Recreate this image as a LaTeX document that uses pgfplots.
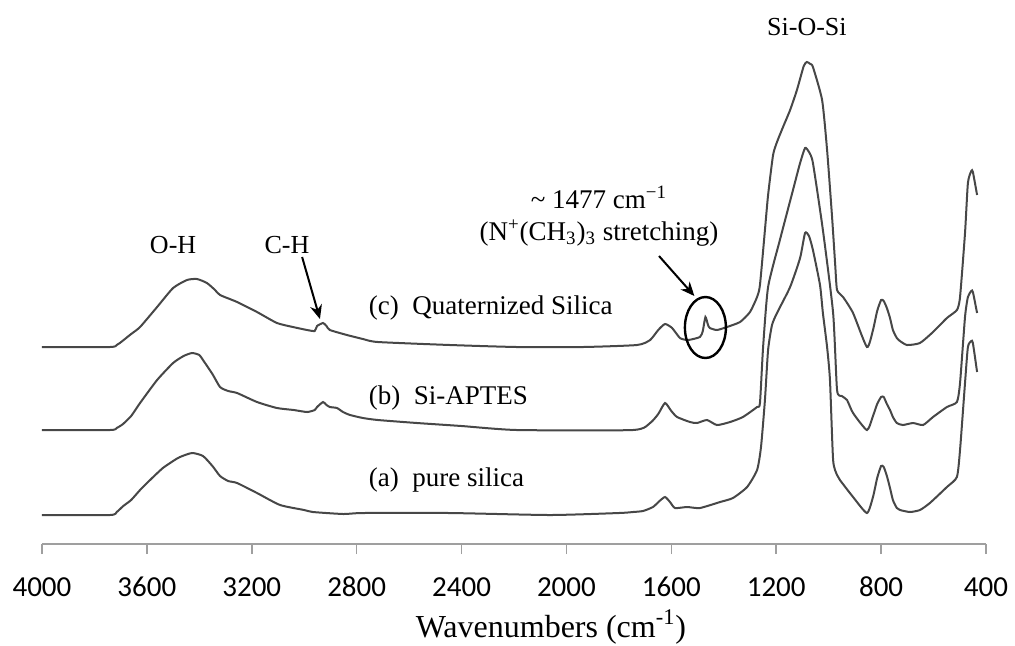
\documentclass[border=0pt]{standalone}
\usepackage{fontspec}
\setmainfont{Liberation Serif}
\newfontfamily\calibri{Carlito}
\usepackage{pgfplots}
\pgfplotsset{compat=1.18}
\usepackage{pgfplotstable}
\usetikzlibrary{arrows.meta}

\pgfplotstableread{
w h
4000 29
3741 29
3715 32
3690 38
3660 44
3626 54
3580 66
3539 76
3500 83
3474 87
3428 91
3386 88
3350 78
3321 68
3290 63
3256 61
3180 51
3092 39
3000 34
2967 32
2850 30
2776 31
2444 31
2063 29
1800 31
1746 32
1708 33
1670 37
1645 43
1624 47
1605 42
1586 36
1540 37
1491 36
1414 42
1365 46
1311 57
1273 74
1258 97
1243 144
1231 194
1216 219
1197 231
1147 257
1109 286
1090 311
1075 308
1060 294
1033 259
1022 231
1006 197
995 164
983 84
968 69
957 64
907 47
854 31
831 47
815 66
800 78
790 77
778 68
766 56
755 44
740 36
728 34
690 32
652 34
614 41
549 57
511 67
499 94
480 161
469 197
456 203
450 201
434 172
}\silica

\pgfplotstableread{
w h
4000 114
3741 114
3715 116
3691 120
3660 128
3626 141
3561 164
3500 181
3460 188
3428 191
3400 189
3386 184
3350 170
3321 157
3290 153
3256 151
3180 142
3104 136
3040 134
2989 132
2960 134
2951 137
2928 142
2915 139
2902 137
2875 136
2852 132
2825 129
2776 126
2719 124
2570 121
2400 118
2189 114
1746 114
1681 121
1650 130
1624 141
1600 133
1578 127
1529 122
1502 121
1464 124
1426 119
1376 122
1327 127
1273 137
1262 141
1250 197
1231 257
1186 304
1136 354
1110 380
1090 396
1075 392
1060 381
1022 314
983 231
968 154
950 148
930 144
907 131
854 114
831 128
815 140
800 147
790 147
778 140
766 134
755 127
740 121
717 119
678 121
640 119
602 127
549 137
511 142
499 161
480 227
469 247
456 253
450 252
434 231
}\aptes

\pgfplotstableread{
w h
4000 197
3741 197
3715 199
3703 201
3660 210
3626 217
3561 237
3500 256
3447 264
3409 265
3371 261
3340 254
3321 249
3256 242
3180 232
3104 221
3043 217
2989 214
2960 213
2951 218
2928 221
2915 218
2902 214
2837 209
2776 205
2719 202
2444 199
2189 197
1937 197
1731 199
1681 204
1650 214
1624 220
1597 216
1567 206
1536 204
1491 207
1480 213
1470 227
1460 219
1453 216
1426 214
1388 217
1338 222
1300 232
1273 247
1262 259
1243 314
1231 349
1212 389
1197 402
1174 417
1147 434
1121 454
1095 478
1083 482
1070 480
1060 477
1025 444
1006 394
987 327
975 279
968 254
945 247
907 231
854 197
831 214
815 233
800 244
790 243
778 236
766 226
755 214
740 206
728 203
701 199
652 201
602 212
549 226
511 234
499 247
480 311
469 361
456 373
450 372
434 349
}\quat

\begin{document}
\begin{tikzpicture}
\path[use as bounding box] (-21pt,-50.5pt) rectangle (486.5pt,272pt);
\begin{axis}[
  at={(0,0)}, anchor=south west,
  scale only axis, width=472pt, height=272pt,
  xmin=400, xmax=4000, ymin=0, ymax=544,
  x dir=reverse,
  axis x line*=bottom, axis y line=none,
  ytick=\empty,
  xtick={400,800,...,4000},
  tick align=outside,
  major tick length=5pt,
  x axis line style={draw=gray!75, line width=1pt},
  every tick/.style={draw=gray!75, line width=0.8pt},
  /pgf/number format/1000 sep={},
  /pgf/number format/assume math mode=true,
  xticklabel style={font=\calibri\fontsize{14.5}{17}\selectfont, anchor=base, yshift=-21pt},
  clip=false,
]
\addplot[black!72, line width=1pt, smooth, tension=0.35] table[x=w,y=h] {\silica};
\addplot[black!72, line width=1pt, smooth, tension=0.35] table[x=w,y=h] {\aptes};
\addplot[black!72, line width=1pt, smooth, tension=0.35] table[x=w,y=h] {\quat};

\node[font=\fontsize{13}{15.6}\selectfont] at (axis cs:1083,517) {Si-O-Si};
\node[font=\fontsize{13}{15.6}\selectfont] at (axis cs:3500,299) {O-H};
\node[font=\fontsize{13}{15.6}\selectfont] at (axis cs:3066,299) {C-H};
\node[font=\fontsize{13.5}{16}\selectfont, align=center] at (axis cs:1876,328)
  {\textasciitilde\ 1477 cm\textsuperscript{−1}\\(N\textsuperscript{+}(CH\textsubscript{3})\textsubscript{3} stretching)};
\node[font=\fontsize{13.5}{16}\selectfont, anchor=west] at (axis cs:2780,236) {(c)\ \ Quaternized Silica};
\node[font=\fontsize{13.5}{16}\selectfont, anchor=west] at (axis cs:2780,146) {(b)\ \ Si-APTES};
\node[font=\fontsize{13.5}{16}\selectfont, anchor=west] at (axis cs:2780,64) {(a)\ \ pure silica};

\draw[line width=1pt, -{Stealth[length=7pt,width=6pt]}] (axis cs:3008,287) -- (axis cs:2940,225);
\draw[line width=1pt, -{Stealth[length=7pt,width=6pt]}] (axis cs:1647,288) -- (axis cs:1512,248);
\draw[line width=1.2pt] (axis cs:1470,216.5) ellipse [x radius=10.25pt, y radius=15.25pt];

\node[font=\fontsize{16}{19}\selectfont, anchor=base] at (axis cs:2059,0) [yshift=-46.5pt] {Wavenumbers (cm\textsuperscript{-1})};
\end{axis}
\end{tikzpicture}
\end{document}
